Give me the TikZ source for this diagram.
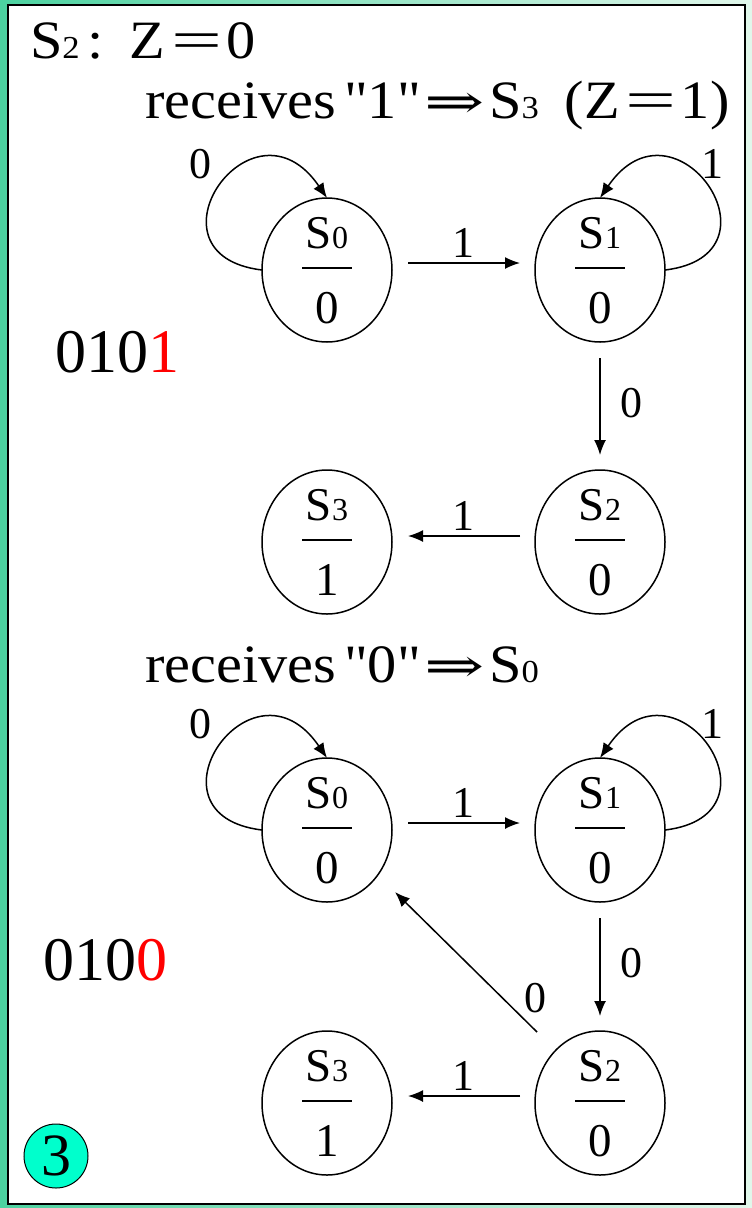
\documentclass[tikz,border=0pt]{standalone}
\usepackage{fontspec}
\setmainfont{Liberation Serif}[Ligatures=TeXOff]
\newfontfamily\headfont{Liberation Serif}[Ligatures=TeXOff, FakeStretch=1.08]
\newfontfamily\arrowfont{DejaVu Serif}
\usetikzlibrary{arrows.meta,calc,shapes.geometric}
\definecolor{bgleft}{RGB}{76,210,160}
\definecolor{bgright}{RGB}{225,247,235}
\definecolor{badgecol}{RGB}{0,255,204}
\tikzset{
  every node/.style={inner sep=0pt, outer sep=0pt},
  stateshape/.style={ellipse, draw, line width=1.5pt, minimum width=130pt, minimum height=144pt},
  edgearrow/.style={line width=1.5pt, -{Latex[length=15pt,width=12pt]}},
  bigtext/.style={font=\headfont\fontsize{54}{60}\selectfont, anchor=base west},
  lbl/.style={font=\fontsize{44}{44}\selectfont, anchor=base},
  numtext/.style={font=\fontsize{47}{47}\selectfont, anchor=base},
  seqtext/.style={font=\fontsize{62}{62}\selectfont, anchor=base west},
}
\newcommand\subd[1]{{\fontsize{32}{32}\selectfont #1}}
\newcommand\impl{\scalebox{1.5}[1]{\arrowfont\fontsize{48}{48}\selectfont ⇒}}
\newcommand\eqs{\scalebox{1.55}[1]{=}}
\newcommand\mystate[5]{%
  \node[stateshape] (#1) at (#2,#3) {};
  \node[numtext] (#1n) at ($(#1)+(0,-22)$) {S\subd{#4}};
  \node[numtext] (#1d) at ($(#1)+(0,53)$) {#5};
  \draw[line width=1.5pt] ($(#1)+(-25,-2)$) -- ($(#1)+(25,-2)$);
}
\begin{document}
\begin{tikzpicture}[x=1pt,y=-1pt]
\useasboundingbox (0,0) rectangle (752,1208);
\shade[left color=bgleft, right color=bgright] (0,0) rectangle (752,1208);
\draw[fill=white, line width=1.5pt] (8,5) rectangle (745,1204);

% headings
\node[bigtext] (h1) at (30,58) {S\subd{2}\hspace{8pt}:\hspace{26pt}Z\hspace{6pt}\eqs\hspace{4pt}0};
\node[bigtext] (h2) at (145,118) {receives\hspace{8pt}"1"\hspace{4pt}\impl\hspace{4pt}S\subd{3}\hspace{26pt}(Z\hspace{6pt}\eqs\hspace{4pt}1)};
\node[bigtext] (h3) at (145,682) {receives\hspace{8pt}"0"\hspace{4pt}\impl\hspace{4pt}S\subd{0}};
\node[seqtext] (q1) at (55,372) {010\textcolor{red}{1}};
\node[seqtext] (q2) at (43,980) {010\textcolor{red}{0}};

% upper diagram
\mystate{a0}{327}{270}{0}{0}
\mystate{a1}{600}{270}{1}{0}
\mystate{a2}{600}{542}{2}{0}
\mystate{a3}{327}{542}{3}{1}

\draw[edgearrow, shorten <=16pt, shorten >=15pt] ($(a0.east)+(0,-7)$) -- node[lbl, above=6pt] (la01) {1} ($(a1.west)+(0,-7)$);
\draw[edgearrow, shorten <=16pt, shorten >=15pt] (a1.south) -- node[lbl, anchor=west, xshift=20pt, yshift=3pt] (la12) {0} (a2.north);
\draw[edgearrow, shorten <=15pt, shorten >=16pt] ($(a2.west)+(0,-6)$) -- node[lbl, above=6pt] (la23) {1} ($(a3.east)+(0,-6)$);
\draw[edgearrow] (a0.west) .. controls ($(a0.west)+(-125,-15)$) and ($(a0.north)+(-75,-110)$) .. (a0.north);
\node[lbl] (la00) at (200,178) {0};
\draw[edgearrow] (a1.east) .. controls ($(a1.east)+(125,-15)$) and ($(a1.north)+(75,-110)$) .. (a1.north);
\node[lbl] (la11) at (712,178) {1};

% lower diagram
\mystate{b0}{327}{830}{0}{0}
\mystate{b1}{600}{830}{1}{0}
\mystate{b2}{600}{1103}{2}{0}
\mystate{b3}{327}{1103}{3}{1}

\draw[edgearrow, shorten <=16pt, shorten >=15pt] ($(b0.east)+(0,-7)$) -- node[lbl, above=6pt] (lb01) {1} ($(b1.west)+(0,-7)$);
\draw[edgearrow, shorten <=16pt, shorten >=15pt] (b1.south) -- node[lbl, anchor=west, xshift=20pt, yshift=3pt] (lb12) {0} (b2.north);
\draw[edgearrow, shorten <=15pt, shorten >=16pt] ($(b2.west)+(0,-7)$) -- node[lbl, above=6pt] (lb23) {1} ($(b3.east)+(0,-7)$);
\draw[edgearrow] ($(b2)+(-63,-71)$) -- ($(b0)+(68,62)$);
\node[lbl] (lb20) at (535,1012) {0};
\draw[edgearrow] (b0.west) .. controls ($(b0.west)+(-125,-15)$) and ($(b0.north)+(-75,-110)$) .. (b0.north);
\node[lbl] (lb00) at (200,738) {0};
\draw[edgearrow] (b1.east) .. controls ($(b1.east)+(125,-15)$) and ($(b1.north)+(75,-110)$) .. (b1.north);
\node[lbl] (lb11) at (712,738) {1};

% badge
\node[circle, draw, fill=badgecol, line width=1pt, minimum size=64pt, font=\fontsize{60}{60}\selectfont] (badge) at (56,1156) {3};
\end{tikzpicture}
\end{document}
